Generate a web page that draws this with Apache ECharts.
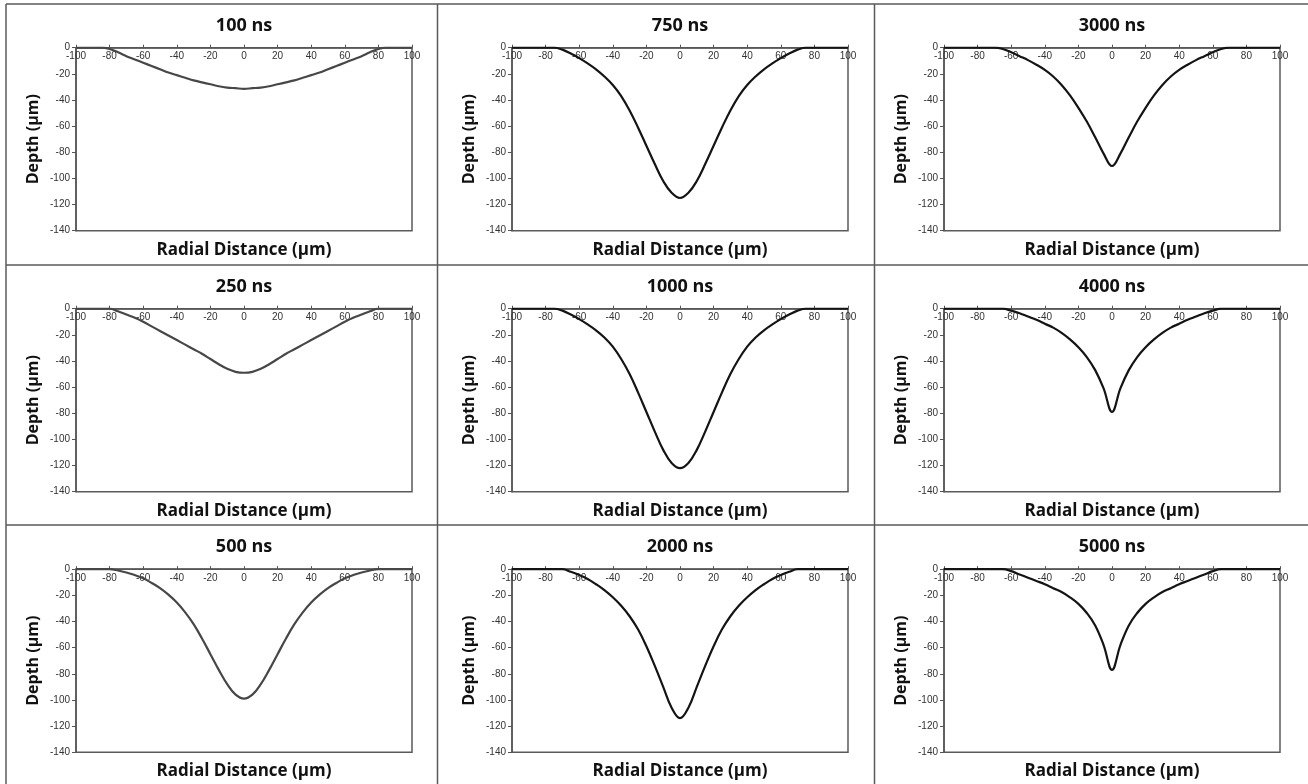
<!DOCTYPE html>
<html>
<head>
<meta charset="utf-8">
<script src="https://cdn.jsdelivr.net/npm/echarts@6/dist/echarts.min.js"></script>
<style>
  html, body { margin: 0; padding: 0; background: #ffffff; }
  #chart { width: 1308px; height: 784px; }
</style>
</head>
<body>
<div id="chart"></div>
<script>
// Radial positions (µm) shared by every crater profile
const radial = [-100, -95, -90, -85, -80, -75, -70, -65, -60, -55, -50, -45, -40, -35, -30, -25, -20, -15, -10, -5,
  0, 5, 10, 15, 20, 25, 30, 35, 40, 45, 50, 55, 60, 65, 70, 75, 80, 85, 90, 95, 100];

// Crater depth profiles (µm) at each delay time
const depth100 = [0, 0, 0, 0, -1, -3.5, -6.5, -9, -11.5, -14, -16.5, -19, -21, -23, -25, -26.5, -28, -29.5, -30.5, -31,
  -31.5, -31, -30.5, -29.5, -28, -26.5, -25, -23, -21, -19, -16.5, -14, -11.5, -9, -6.5, -3.5, -1, 0, 0, 0, 0];
const depth250 = [0, 0, 0, 0, 0, -2, -4.5, -7, -10, -13.5, -17, -20.5, -24, -27.5, -31, -34.5, -38.5, -42.5, -46, -48.3,
  -49, -48.3, -46, -42.5, -38.5, -34.5, -31, -27.5, -24, -20.5, -17, -13.5, -10, -7, -4.5, -2, 0, 0, 0, 0, 0];
const depth500 = [0, 0, 0, 0, 0, -1, -2.5, -4.5, -7, -10.5, -14.5, -19.5, -25.5, -33, -42, -53, -65, -77, -88, -96,
  -99, -96, -88, -77, -65, -53, -42, -33, -25.5, -19.5, -14.5, -10.5, -7, -4.5, -2.5, -1, 0, 0, 0, 0, 0];
const depth750 = [0, 0, 0, 0, 0, 0, -1.5, -4.5, -8, -12, -16.5, -22, -28.5, -37, -48, -61, -75, -89, -102, -111,
  -115, -111, -102, -89, -75, -61, -48, -37, -28.5, -22, -16.5, -12, -8, -4.5, -1.5, 0, 0, 0, 0, 0, 0];
const depth1000 = [0, 0, 0, 0, 0, 0, -1.5, -4.5, -8, -12, -16.5, -22, -29, -38.5, -50, -64, -79, -94, -108, -118,
  -122, -118, -108, -94, -79, -64, -50, -38.5, -29, -22, -16.5, -12, -8, -4.5, -1.5, 0, 0, 0, 0, 0, 0];
const depth2000 = [0, 0, 0, 0, 0, 0, 0, -2, -4.5, -7.5, -11.5, -16, -21.5, -28, -36, -46, -59, -74, -90, -106,
  -114, -106, -90, -74, -59, -46, -36, -28, -21.5, -16, -11.5, -7.5, -4.5, -2, 0, 0, 0, 0, 0, 0, 0];
const depth3000 = [0, 0, 0, 0, 0, 0, 0, -1, -3.5, -6.5, -9.5, -13, -17, -22, -28.5, -36.5, -46, -56.5, -68.5, -81,
  -90.5, -81, -68.5, -56.5, -46, -36.5, -28.5, -22, -17, -13, -9.5, -6.5, -3.5, -1, 0, 0, 0, 0, 0, 0, 0];
const depth4000 = [0, 0, 0, 0, 0, 0, 0, 0, -1.5, -3.5, -6, -8.5, -11.5, -14.5, -18.5, -23.5, -29.5, -37, -47, -61,
  -79, -61, -47, -37, -29.5, -23.5, -18.5, -14.5, -11.5, -8.5, -6, -3.5, -1.5, 0, 0, 0, 0, 0, 0, 0, 0];
const depth5000 = [0, 0, 0, 0, 0, 0, 0, 0, -1.5, -4, -6.5, -9, -11.5, -14.5, -17.5, -21.5, -26.5, -33.5, -43, -58,
  -77, -58, -43, -33.5, -26.5, -21.5, -17.5, -14.5, -11.5, -9, -6.5, -4, -1.5, 0, 0, 0, 0, 0, 0, 0, 0];

// Panels in reading order (row by row)
const panelTitles = ['100 ns', '750 ns', '3000 ns', '250 ns', '1000 ns', '4000 ns', '500 ns', '2000 ns', '5000 ns'];
const panelDepths = [depth100, depth750, depth3000, depth250, depth1000, depth4000, depth500, depth2000, depth5000];
const xAxisTitle = 'Radial Distance (\u03bcm)';
const yAxisTitle = 'Depth (\u03bcm)';

// Axis ranges
const xMin = -100, xMax = 100, xStep = 20;
const yMin = -140, yMax = 0, yStep = 20;

// Page layout
const colLeft = [76, 512, 944];
const plotW = 336;
const rowTop = [47.7, 308.7, 569.2];
const plotH = 183;
const dividerX = [6, 437.5, 874.5];
const dividerY = [4, 265, 525];

const tickFont = '"Liberation Sans", Arial, sans-serif';
const boldFont = '"Open Sans", "Noto Sans", sans-serif';

const grids = [], xAxes = [], yAxes = [], series = [], graphics = [];

panelTitles.forEach((title, i) => {
  const r = Math.floor(i / 3), c = i % 3;
  const left = colLeft[c], top = rowTop[r];
  const lineColor = c === 0 ? '#474747' : '#141414';

  grids.push({
    left: left, top: top, width: plotW, height: plotH,
    show: true, borderColor: '#5a5a5a', borderWidth: 1.5, backgroundColor: '#ffffff'
  });

  xAxes.push({
    type: 'value', gridIndex: i, position: 'top',
    min: xMin, max: xMax, interval: xStep,
    axisLine: { show: true, onZero: false, lineStyle: { color: '#555555', width: 1.5 } },
    axisTick: { show: true, inside: false, length: 3, lineStyle: { color: '#555555', width: 1 } },
    axisLabel: { inside: true, margin: 4, fontSize: 10, color: '#333333', fontFamily: tickFont },
    splitLine: { show: false }
  });

  yAxes.push({
    type: 'value', gridIndex: i,
    min: yMin, max: yMax, interval: yStep,
    axisLine: { show: true, onZero: false, lineStyle: { color: '#555555', width: 1.5 } },
    axisTick: { show: true, inside: false, length: 4, lineStyle: { color: '#555555', width: 1 } },
    axisLabel: { margin: 6, fontSize: 10, color: '#333333', fontFamily: tickFont },
    splitLine: { show: false }
  });

  series.push({
    type: 'line', name: title, xAxisIndex: i, yAxisIndex: i,
    data: radial.map((x, k) => [x, panelDepths[i][k]]),
    showSymbol: false, smooth: 0.4, clip: true,
    lineStyle: { color: lineColor, width: 2.2 },
    itemStyle: { color: lineColor },
    silent: true
  });

  const cx = left + plotW / 2;
  // panel heading
  graphics.push({
    type: 'text', x: cx, y: top - 22, silent: true,
    style: { text: title, font: 'bold 18px ' + boldFont, fill: '#111111', textAlign: 'center', textVerticalAlign: 'middle' }
  });
  // horizontal axis title under the plot
  graphics.push({
    type: 'text', x: cx, y: top + plotH + 19, silent: true,
    style: { text: xAxisTitle, font: 'bold 17px ' + boldFont, fill: '#111111', textAlign: 'center', textVerticalAlign: 'middle' }
  });
  // vertical axis title
  graphics.push({
    type: 'text', x: left - 43, y: top + plotH / 2, rotation: Math.PI / 2, silent: true,
    style: { text: yAxisTitle, font: 'bold 16px ' + boldFont, fill: '#111111', textAlign: 'center', textVerticalAlign: 'middle' }
  });
});

// Table rules separating the panels
dividerX.forEach(x => {
  graphics.push({ type: 'line', silent: true, shape: { x1: x, y1: dividerY[0], x2: x, y2: 784 },
    style: { stroke: '#5a5a5a', lineWidth: 1.5 } });
});
dividerY.forEach(y => {
  graphics.push({ type: 'line', silent: true, shape: { x1: dividerX[0], y1: y, x2: 1308, y2: y },
    style: { stroke: '#5a5a5a', lineWidth: 1.5 } });
});

const chart = echarts.init(document.getElementById('chart'), null, { renderer: 'canvas' });
chart.setOption({
  animation: false,
  backgroundColor: '#ffffff',
  grid: grids,
  xAxis: xAxes,
  yAxis: yAxes,
  series: series,
  graphic: { elements: graphics }
});
</script>
</body>
</html>
